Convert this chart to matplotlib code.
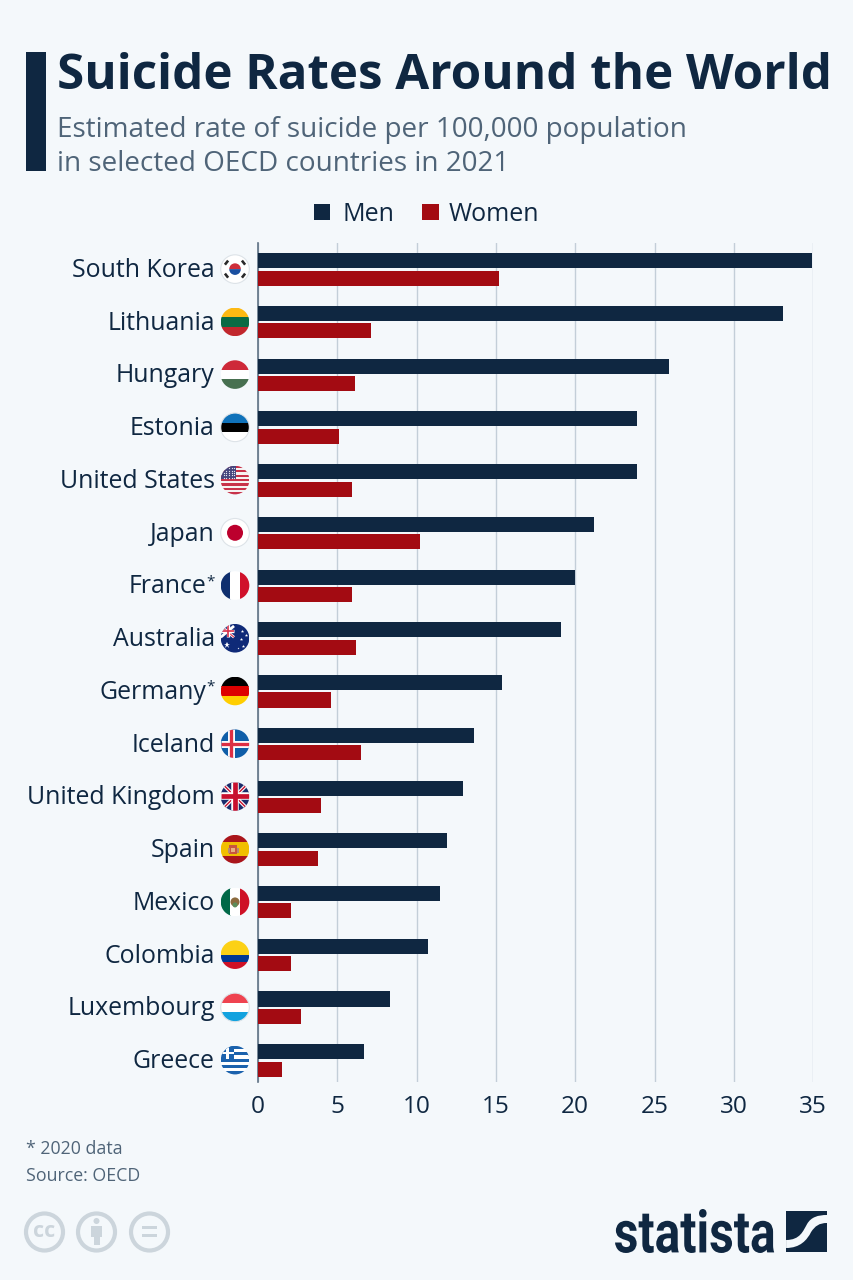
"""Suicide rates bar chart, statista style."""
import numpy as np, matplotlib
matplotlib.use("Agg")
import matplotlib.pyplot as plt
from matplotlib.patches import Circle, Rectangle, PathPatch, Wedge
from matplotlib.path import Path
from matplotlib.textpath import TextPath
from matplotlib.font_manager import FontProperties
from matplotlib.transforms import Affine2D

plt.rcParams["font.family"] = ["Open Sans", "DejaVu Sans"]

countries = ["South Korea", "Lithuania", "Hungary", "Estonia", "United States", "Japan",
             "France*", "Australia", "Germany*", "Iceland", "United Kingdom", "Spain",
             "Mexico", "Colombia", "Luxembourg", "Greece"]
men = [34.9, 33.1, 25.9, 23.9, 23.9, 21.2, 20.0, 19.1, 15.4, 13.6, 12.9, 11.9, 11.5, 10.7, 8.3, 6.7]
women = [15.2, 7.1, 6.1, 5.1, 5.9, 10.2, 5.9, 6.2, 4.6, 6.5, 4.0, 3.8, 2.1, 2.1, 2.7, 1.5]
xticks = [0, 5, 10, 15, 20, 25, 30, 35]

BG = "#f4f8fb"; NAVY = "#0f2741"; RED = "#a30b12"; GREY = "#4f6478"; GRID = "#c3ced8"; ICON = "#ccd5dc"
W, H = 853, 1280
AX_L, AX_R, AX_T, AX_B = 258, 813, 243, 1082
ROW0, ROWSTEP = 269.5, 52.73

fig = plt.figure(figsize=((W+0.1)/100, (H+0.1)/100), dpi=100, facecolor=BG)

# chart axes
ax = fig.add_axes([AX_L/W, 1-AX_B/H, (AX_R-AX_L)/W, (AX_B-AX_T)/H], facecolor="none")
y = np.arange(len(countries))
ax.barh(y-0.165, men, height=0.285, color=NAVY, zorder=3)
ax.barh(y+0.165, women, height=0.285, color=RED, zorder=3)
ax.set_xlim(0, 35)
ax.set_ylim((AX_B-ROW0)/ROWSTEP, (AX_T-ROW0)/ROWSTEP)
ax.set_xticks(xticks)
ax.set_yticks([])
ax.grid(axis="x", color=GRID, lw=1, zorder=0)
ax.tick_params(axis="x", length=0, pad=9, labelsize=17.6, labelcolor=NAVY)
for s in ["top", "right", "bottom"]:
    ax.spines[s].set_visible(False)
ax.spines["left"].set_color("#5f7285"); ax.spines["left"].set_linewidth(1.2)
for t in ax.get_xticklabels():
    t.set_clip_on(False)

# overlay in pixel coordinates for text and decoration
ov = fig.add_axes([0, 0, 1, 1], facecolor="none")
ov.set_xlim(0, W); ov.set_ylim(H, 0); ov.axis("off")

ov.add_patch(Rectangle((26, 52), 20, 119, color=NAVY, lw=0))
ov.text(57, 89, "Suicide Rates Around the World", fontsize=35.5, fontweight="bold", color=NAVY, va="baseline", ha="left")
ov.text(57, 137, "Estimated rate of suicide per 100,000 population", fontsize=20.06, color=GREY, va="baseline", ha="left")
ov.text(57, 171, "in selected OECD countries in 2021", fontsize=20.06, color=GREY, va="baseline", ha="left")

# legend
ov.add_patch(Rectangle((314, 204), 16, 16, color=NAVY, lw=0))
ov.text(342, 221, "Men", fontsize=18, color=NAVY, va="baseline")
ov.add_patch(Rectangle((422, 204), 17, 16, color=RED, lw=0))
ov.text(449, 221, "Women", fontsize=18, color=NAVY, va="baseline")

# flags: horizontal or vertical stripes as (colour, weight)
def flag(i, stripes, vertical=False, edge=False):
    cy = ROW0 + i*ROWSTEP - 0.3
    cx = 235
    r = 14.3
    clip = Circle((cx, cy), r, transform=ov.transData)
    total = sum(w for _, w in stripes)
    pos = -r
    for col, w in stripes:
        size = 2*r*w/total
        if vertical:
            p = Rectangle((cx+pos, cy-r), size+0.3, 2*r, color=col, lw=0)
        else:
            p = Rectangle((cx-r, cy+pos), 2*r, size+0.3, color=col, lw=0)
        ov.add_patch(p); p.set_clip_path(clip)
        pos += size
    if edge:
        ov.add_patch(Circle((cx, cy), r, fc="none", ec="#dde3e8", lw=0.8, zorder=6))
    return cx, cy, r, clip

def add(patch, clip):
    ov.add_patch(patch); patch.set_clip_path(clip)
    return patch

def seg(x, y, col, lw, clip, zorder=3):
    ln = ov.plot(x, y, color=col, lw=lw, solid_capstyle="butt", zorder=zorder)[0]
    ln.set_clip_path(clip)
    return ln

# South Korea
cx, cy, r, c = flag(0, [("white", 1)], edge=True)
ov.add_patch(Wedge((cx, cy), 5.8, 180, 360, color="#cd2e3a", lw=0))
ov.add_patch(Wedge((cx, cy), 5.8, 0, 180, color="#1a4fa0", lw=0))
for dx, dy in [(-8.5, -6.5), (8.5, -6.5), (-8.5, 6.5), (8.5, 6.5)]:
    ang = 52 if dx*dy < 0 else -52
    t = Affine2D().rotate_deg_around(cx+dx, cy+dy, ang) + ov.transData
    ov.add_patch(Rectangle((cx+dx-2.6, cy+dy-1.3), 5.2, 2.6, color="#2a2a2a", lw=0, transform=t))

# Lithuania, Hungary, Estonia
flag(1, [("#fdb913", 1), ("#0a6a44", 1), ("#c1272d", 1)])
flag(2, [("#ce2939", 1), ("white", 1), ("#477050", 1)])
flag(3, [("#0f72ba", 1), ("#000000", 1), ("white", 1)], edge=True)

# United States
cx, cy, r, c = flag(4, [("#c8324a", 1), ("#f6f2f2", 1)]*6 + [("#c8324a", 1)])
add(Rectangle((cx-r, cy-r), r*1.1, r*0.95, color="#45467e", lw=0), c)
for sx in np.arange(cx-r+3, cx, 2.6):
    for sy in np.arange(cy-r+2.5, cy-1, 2.4):
        if np.hypot(sx-cx, sy-cy) < r-1:
            ov.plot(sx, sy, "o", color="#e8e8f2", ms=0.9, mew=0, zorder=5)

# Japan
cx, cy, r, c = flag(5, [("white", 1)], edge=True)
add(Circle((cx, cy), 8, color="#bc002d", lw=0), c)

# France
flag(6, [("#0f2f6e", 1), ("white", 1), ("#d0112b", 1)], vertical=True)

# Australia
cx, cy, r, c = flag(7, [("#0f2a78", 1)])
seg([cx-r, cx-1], [cy-r+2, cy-1], "white", 2.0, c)
seg([cx-r, cx-1], [cy-1, cy-r+2], "white", 2.0, c)
seg([cx-r, cx-1], [cy-r+2, cy-1], "#d8304a", 0.8, c)
seg([cx-r/2, cx-r/2], [cy-r, cy-1], "white", 2.4, c)
seg([cx-r, cx-1], [cy-r/2, cy-r/2], "white", 2.4, c)
seg([cx-r/2, cx-r/2], [cy-r, cy-1], "#d8304a", 1.2, c)
seg([cx-r, cx-1], [cy-r/2, cy-r/2], "#d8304a", 1.2, c)
for sx, sy, ms in [(-8, 7, 4.5), (7, -7, 2.5), (11, -3, 2.5), (6, 1, 2.5), (8, 8, 2.5), (3, 10, 1.5)]:
    ov.plot(cx+sx, cy+sy, "*", color="white", ms=ms, mew=0, zorder=5)

# Germany
flag(8, [("#000000", 1), ("#dd0000", 1), ("#ffce00", 1)])

# Iceland
cx, cy, r, c = flag(9, [("#0f5ea8", 1)])
for col, lw in [("white", 5.0), ("#dc2e44", 2.4)]:
    seg([cx-4, cx-4], [cy-r, cy+r], col, lw, c)
    seg([cx-r, cx+r], [cy, cy], col, lw, c)

# United Kingdom
cx, cy, r, c = flag(10, [("#1a2c6b", 1)])
for col, lw in [("white", 2.6), ("#c8102e", 1.0)]:
    for sgn in (1, -1):
        seg([cx-r, cx+r], [cy-sgn*r, cy+sgn*r], col, lw, c)
for col, lw in [("white", 5.4), ("#c8102e", 3.4)]:
    seg([cx, cx], [cy-r, cy+r], col, lw, c, zorder=4)
    seg([cx-r, cx+r], [cy, cy], col, lw, c, zorder=4)

# Spain
cx, cy, r, c = flag(11, [("#aa151b", 1), ("#f1bf00", 2), ("#aa151b", 1)])
add(Rectangle((cx-6, cy-4.5), 8, 9, color="#c8553f", lw=0), c)
add(Rectangle((cx-4, cy-1.5), 4, 4, color="#e8b080", lw=0), c)
add(Rectangle((cx-7, cy-1), 1.5, 5, color="#b98a72", lw=0), c)
add(Rectangle((cx+2, cy-1), 1.5, 5, color="#b98a72", lw=0), c)

# Mexico
cx, cy, r, c = flag(12, [("#006847", 1), ("white", 1), ("#ce1126", 1)], vertical=True)
add(Circle((cx, cy), 4.5, color="#8c6a3e", lw=0), c)
add(Circle((cx, cy+3), 2.5, color="#5b8c5a", lw=0), c)

# Colombia
flag(13, [("#fcd116", 2), ("#003893", 1), ("#ce1126", 1)])

# Luxembourg
flag(14, [("#ef4350", 1), ("white", 1), ("#12a2df", 1)], edge=True)

# Greece
cx, cy, r, c = flag(15, [("#1b62ad", 1), ("white", 1)]*4 + [("#1b62ad", 1)])
add(Rectangle((cx-r, cy-r), r*0.95, r*0.95, color="#1b62ad", lw=0), c)
add(Rectangle((cx-r, cy-r*0.6), r*0.95, 2.4, color="white", lw=0), c)
add(Rectangle((cx-r*0.6, cy-r), 2.4, r*0.95, color="white", lw=0), c)

# category labels, with the asterisk as a small raised sign
for i, name in enumerate(countries):
    base = ROW0 + i*ROWSTEP + 7.5
    if name.endswith("*"):
        ov.text(206, base, name[:-1], fontsize=17.9, color=NAVY, ha="right", va="baseline")
        ov.text(206, base-8, "*", fontsize=11, color=NAVY, ha="left", va="baseline")
    else:
        ov.text(214.7, base, name, fontsize=17.9, color=NAVY, ha="right", va="baseline")

# footer
ov.text(26, 1153.5, "* 2020 data", fontsize=12.8, color=GREY, va="baseline")
ov.text(26, 1180.5, "Source: OECD", fontsize=12.8, color=GREY, va="baseline")

# cc icons
for ix in (45, 97, 150):
    ov.add_patch(Circle((ix-0.5, 1232), 18.5, fc="none", ec=ICON, lw=3))
ov.text(44.5, 1231.5, "cc", fontsize=15.5, fontweight="bold", color=ICON, ha="center", va="center")
ov.add_patch(Circle((96.5, 1221), 3, color=ICON, lw=0))
ov.add_patch(Rectangle((91, 1226), 11, 11, color=ICON, lw=0))
ov.add_patch(Rectangle((93.5, 1236), 6, 9, color=ICON, lw=0))
ov.add_patch(Rectangle((142, 1226), 15, 3.5, color=ICON, lw=0))
ov.add_patch(Rectangle((142, 1234), 15, 3.5, color=ICON, lw=0))

# statista logo, squeezed bold text
tp = TextPath((0, 0), "statista", size=50, prop=FontProperties(family="Roboto", weight="bold"))
bb = tp.get_extents()
tr = Affine2D().translate(-bb.x0, -bb.y0).scale(159/bb.width, -44/bb.height).translate(615, 1253)
ov.add_patch(PathPatch(tr.transform_path(tp), color=NAVY, lw=0))
ov.add_patch(Rectangle((786, 1211), 41, 41, color=NAVY, lw=0))
ov.add_patch(PathPatch(Path([(786, 1240), (800, 1240), (803, 1231), (807, 1224), (811, 1217), (818, 1215), (827, 1215),
                             (827, 1223), (819, 1223), (815, 1226), (811, 1232), (807, 1240), (800, 1248), (786, 1248), (786, 1240)],
                            [Path.MOVETO, Path.CURVE4, Path.CURVE4, Path.CURVE4, Path.CURVE4, Path.CURVE4, Path.CURVE4,
                             Path.LINETO, Path.CURVE4, Path.CURVE4, Path.CURVE4, Path.CURVE4, Path.CURVE4, Path.CURVE4, Path.CLOSEPOLY]),
                       fc=BG, lw=0))

fig.savefig("out.png", dpi=100, facecolor=BG)
